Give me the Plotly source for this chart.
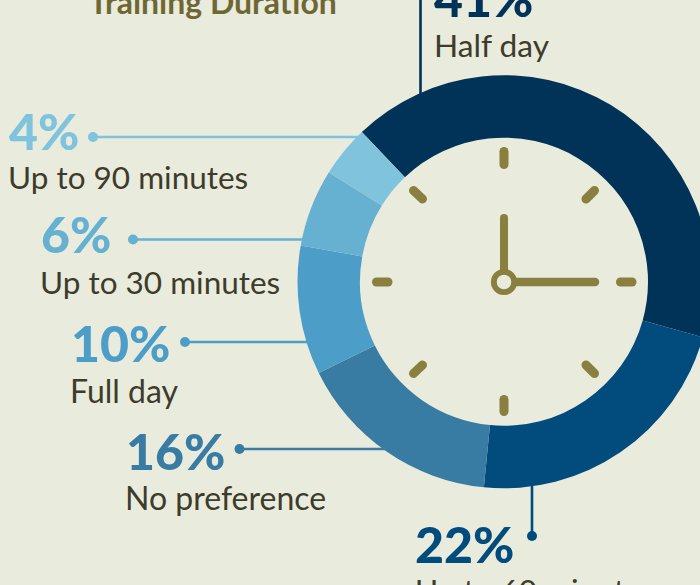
import plotly.graph_objects as go

# ---- data ----
categories = ["Half day", "Up to 60 minutes", "No preference", "Full day",
              "Up to 30 minutes", "Up to 90 minutes"]
values = [41, 22, 16, 10, 6, 4]
pct_labels = ["41%", "22%", "16%", "10%", "6%", "4%"]
title_text = "Training Duration"

# ---- styles ----
slice_colors = ["#003357", "#014c7c", "#387ba3", "#4c9ec9", "#66b0d2", "#7fc3dc"]
BG = "#e9ebdd"
OLIVE = "#897f3e"
TITLE_COLOR = "#6f6733"
TEXT_COLOR = "#3d3c2b"
FONT = "Lato"
FONT_HEAVY = "'Lato Black', Lato"

# ---- layout geometry (pixels) ----
W, H = 720, 585
CX, CY, R_OUT, R_IN = 504, 281.75, 206.5, 144


def px(x):
    return x / W


def py(y):
    return 1 - y / H


fig = go.Figure(go.Pie(
    labels=categories, values=values, sort=False, direction="clockwise",
    rotation=-43.5, hole=R_IN / R_OUT,
    marker=dict(colors=slice_colors, line=dict(width=0)),
    textinfo="none", hoverinfo="label+value", showlegend=False,
    domain=dict(x=[px(CX - R_OUT), px(CX + R_OUT)],
                y=[py(CY + R_OUT), py(CY - R_OUT)]),
))

shapes = []


def line(x0, y0, x1, y1, color, width):
    shapes.append(dict(type="line", xref="paper", yref="paper",
                       x0=px(x0), y0=py(y0), x1=px(x1), y1=py(y1),
                       line=dict(color=color, width=width)))


def circle(x, y, r, fill, color=None, width=0):
    shapes.append(dict(type="circle", xref="paper", yref="paper",
                       x0=px(x - r), y0=py(y - r), x1=px(x + r), y1=py(y + r),
                       fillcolor=fill, line=dict(color=color or fill, width=width)))


# leader lines: (x0, y0, x1, y1, colour index, has dot at x0,y0)
leaders = [
    (420.5, -5, 420.5, 96, 0, False),
    (532, 536, 532, 486, 1, True),
    (239.5, 449, 386, 449, 2, True),
    (185, 342, 308, 342, 3, True),
    (133, 239.5, 304, 239.5, 4, True),
    (93, 137, 362, 137, 5, True),
]
for x0, y0, x1, y1, c, dot in leaders:
    line(x0, y0, x1, y1, slice_colors[c], 2.6)
    if dot:
        circle(x0, y0, 5, slice_colors[c])

# clock face
TICK = 9
line(504, 151.5, 504, 164.5, OLIVE, TICK)
line(504, 399.5, 504, 411.5, OLIVE, TICK)
line(376.5, 282, 388, 282, OLIVE, TICK)
line(620.5, 282, 632, 282, OLIVE, TICK)
line(413.5, 190.5, 422.5, 199, OLIVE, TICK)
line(594.5, 190.5, 586, 199, OLIVE, TICK)
line(413.5, 373.5, 422.5, 365, OLIVE, TICK)
line(594.5, 373.5, 586, 365, OLIVE, TICK)
line(504, 218, 504, 275, OLIVE, 8)
line(510, 282, 595, 282, OLIVE, 8.5)
circle(504, 282, 10.2, BG, OLIVE, 5.8)

annotations = []


def text(x, y, s, size, color, family=FONT, weight=400, anchor="left"):
    annotations.append(dict(
        xref="paper", yref="paper", x=px(x), y=py(y), xanchor=anchor, yanchor="middle",
        text=s, showarrow=False, align=anchor, borderpad=0, borderwidth=0,
        font=dict(family=family, size=size, color=color, weight=weight),
    ))


pct_pos = [(434, -2), (415.5, 544), (125.5, 451), (70.5, 343), (40.5, 234), (9, 131)]
name_pos = [(434, 45.5), (415, 590), (125, 497), (70, 390), (40, 281.5), (8, 177)]
name_sizes = [31.7, 31.5, 32, 32, 31.5, 31.5]
for i in range(len(values)):
    text(pct_pos[i][0], pct_pos[i][1], pct_labels[i], 50, slice_colors[i], FONT_HEAVY, 900)
    text(name_pos[i][0], name_pos[i][1], categories[i], name_sizes[i], TEXT_COLOR)
text(212.5, 2, title_text, 32, TITLE_COLOR, FONT, 700, anchor="center")

fig.update_layout(
    width=W, height=H, autosize=False,
    margin=dict(l=0, r=0, t=0, b=0, pad=0),
    paper_bgcolor=BG, plot_bgcolor=BG,
    shapes=shapes, annotations=annotations,
    font=dict(family=FONT),
)

post = """
var s = document.createElement('style');
s.textContent = 'html,body{margin:0;padding:0;overflow:hidden;background:%s} .shapelayer path{stroke-linecap:round}';
document.head.appendChild(s);
""" % BG

fig.write_html("out.html", post_script=post, config={"displayModeBar": False})
